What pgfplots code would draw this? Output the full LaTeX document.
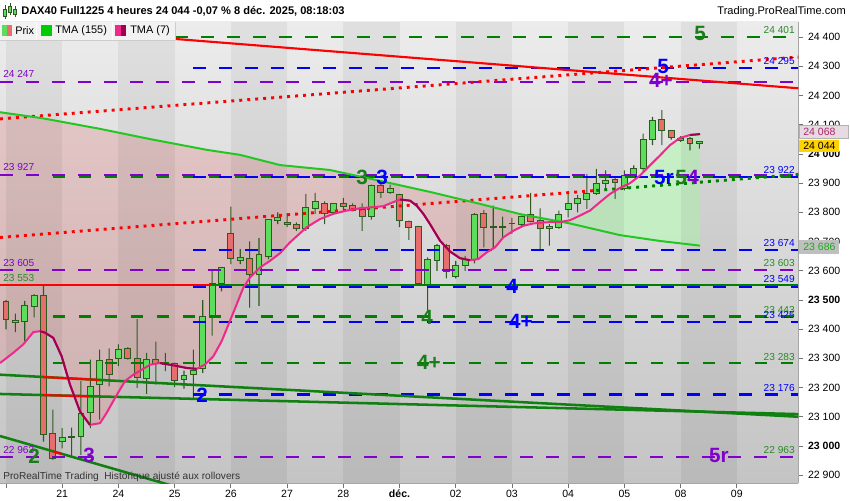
\documentclass[border=0pt]{standalone}
\usepackage{fontspec}
\setmainfont{Liberation Sans}
\usepackage{pgfplots}
\pgfplotsset{compat=1.18}
\usepackage{pgfplotstable}
\usepgfplotslibrary{fillbetween}

\definecolor{lvgreen}{RGB}{0,128,0}
\definecolor{lvblue}{RGB}{0,0,255}
\definecolor{lvpurple}{RGB}{128,0,204}
\definecolor{trgreen}{RGB}{16,128,16}
\definecolor{tmaslow}{RGB}{34,200,34}
\definecolor{tmapink}{RGB}{240,40,140}
\definecolor{tmamaroon}{RGB}{160,0,80}
\definecolor{candleup}{RGB}{92,222,92}
\definecolor{candledn}{RGB}{232,110,110}
\definecolor{candleline}{RGB}{45,90,30}
\definecolor{bgtop}{RGB}{236,236,236}
\definecolor{bgbot}{RGB}{196,196,196}
\definecolor{labgreen}{RGB}{40,140,40}
\definecolor{biggreen}{RGB}{25,125,25}
\definecolor{fillred}{RGB}{225,90,90}
\definecolor{fillgreen}{RGB}{190,245,190}
\definecolor{boxpink}{RGB}{232,218,226}
\definecolor{boxyellow}{RGB}{255,210,0}
\definecolor{boxgreen}{RGB}{30,170,30}

% 4h candles, k = candle index (6 per day), prices in points
\pgfplotstableread{
k o h l c
0 23493 23499 23399 23434
1 23424 23453 23390 23428
2 23426 23497 23359 23480
3 23477 23520 23440 23516
4 23516 23548 23015 23038
5 23042 23124 22952 22956
6 23015 23061 22992 23030
7 23030 23063 22964 23031
8 23032 23222 22969 23110
9 23113 23296 23061 23202
10 23210 23330 23090 23293
11 23296 23334 23204 23244
12 23300 23348 23273 23329
13 23334 23338 23296 23300
14 23300 23434 23199 23233
15 23231 23319 23178 23296
16 23296 23357 23210 23281
17 23280 23319 23256 23282
18 23281 23285 23201 23224
19 23226 23258 23196 23241
20 23244 23330 23164 23259
21 23265 23499 23250 23442
22 23443 23603 23378 23557
23 23557 23613 23529 23611
24 23729 23820 23623 23643
25 23636 23674 23623 23647
26 23643 23701 23474 23588
27 23588 23712 23480 23654
28 23650 23777 23640 23774
29 23773 23800 23760 23781
30 23765 23797 23749 23757
31 23760 23766 23737 23743
32 23743 23863 23737 23818
33 23814 23867 23795 23838
34 23832 23838 23760 23797
35 23800 23831 23797 23829
36 23832 23850 23812 23821
37 23822 23831 23804 23808
38 23809 23831 23737 23787
39 23787 23895 23775 23892
40 23892 23898 23850 23869
41 23869 23895 23863 23881
42 23861 23863 23749 23772
43 23768 23772 23706 23749
44 23751 23754 23548 23556
45 23554 23646 23464 23640
46 23636 23691 23600 23688
47 23688 23691 23574 23597
48 23580 23634 23574 23619
49 23619 23651 23600 23640
50 23640 23797 23625 23792
51 23795 23808 23680 23749
52 23749 23823 23674 23750
53 23749 23785 23714 23750
54 23762 23781 23726 23763
55 23760 23789 23754 23785
56 23791 23867 23766 23769
57 23772 23814 23668 23743
58 23746 23760 23686 23752
59 23749 23806 23743 23792
60 23809 23863 23783 23832
61 23832 23860 23800 23846
62 23844 23932 23812 23863
63 23863 23949 23860 23898
64 23898 23944 23881 23909
65 23912 23921 23846 23901
66 23881 23944 23875 23926
67 23923 23961 23918 23949
68 23949 24070 23938 24049
69 24049 24127 24030 24116
70 24118 24150 24030 24079
71 24079 24081 24049 24056
72 24053 24061 24041 24047
73 24053 24058 24012 24035
74 24037 24044 24018 24044
}\candles

% TMA (7)
\pgfplotstableread{
k v
-0.64 23284
0.78 23319
1.85 23348
2.92 23390
3.63 23393
4.16 23388
5.05 23370
5.94 23307
6.83 23210
7.90 23118
8.96 23072
10.03 23078
10.74 23113
11.63 23164
12.70 23222
13.59 23244
14.65 23264
15.37 23278
16.43 23284
17.86 23276
19.28 23267
20.35 23264
21.24 23279
22.13 23307
23.02 23359
23.90 23428
24.62 23485
25.33 23542
26.04 23577
27.10 23611
28.18 23634
29.24 23660
30.30 23697
32.09 23749
33.51 23777
34.93 23795
36.36 23806
37.78 23814
39.20 23818
40.27 23821
41.33 23835
42.05 23844
43.12 23840
43.83 23823
44.54 23795
45.25 23760
46.32 23703
47.39 23666
48.45 23643
49.52 23636
50.41 23640
51.30 23663
52.19 23680
53.07 23714
54.14 23737
55.21 23754
56.28 23762
57.70 23766
59.13 23767
60.19 23773
61.26 23789
62.33 23806
63.39 23835
64.46 23863
65.53 23884
66.60 23900
67.66 23926
68.73 23961
69.80 23995
70.86 24030
71.93 24055
73.00 24065
74.07 24068
}\tmafast

% TMA (155)
\pgfplotstableread{
k v
-0.64 24143
3.95 24122
10.03 24086
15.37 24051
21.45 24014
24.97 23997
29.24 23962
34.58 23945
39.91 23908
45.25 23870
50.59 23829
54.86 23794
60.19 23762
65.53 23722
69.80 23702
74.07 23686
}\tmaslow

\pgfplotsset{
  chartbase/.style={
    scale only axis, width=598.725pt, height=346.2pt,
    at={(0pt,-16.275pt)}, anchor=north west,
    xmin=-0.64, xmax=84.56, ymin=22872, ymax=24453,
  },
  lvl/.style={line width=1.75pt, dash pattern=on 9.5pt off 10pt},
  dots/.style={line width=2.2pt, dash pattern=on 2.2pt off 3.8pt},
}
\newcommand\fs[1]{\fontsize{#1}{#1}\selectfont}

\begin{document}
\begin{tikzpicture}

% layer 1: background, day bands, TMA fill, the two scales
\begin{axis}[chartbase,
  axis background/.style={top color=bgtop, bottom color=bgbot},
  axis x line*=bottom, axis y line*=right,
  axis line style={-, draw=gray!70, line width=0.75pt},
  tick align=outside, major tick length=3.75pt,
  tick style={draw=gray!90!black, line width=0.6pt},
  scaled y ticks=false,
  xtick={0,6,...,78},
  xticklabels={,21,24,25,26,27,28,\textbf{déc.},02,03,04,05,08,09},
  ytick={22900,23000,...,24400},
  yticklabels={22 900,\textbf{23 000},23 100,23 200,23 300,23 400,\textbf{23 500},23 600,23 700,23 800,23 900,\textbf{24 000},24 100,24 200,24 300,24 400},
  ticklabel style={font=\fs{7.9pt}, text=black},
  xticklabel style={yshift=2.2pt},
]
\fill[black, opacity=0.05] (axis cs:0,22872) rectangle (axis cs:6,24453);
\fill[black, opacity=0.05] (axis cs:12,22872) rectangle (axis cs:18,24453);
\fill[black, opacity=0.05] (axis cs:24,22872) rectangle (axis cs:30,24453);
\fill[black, opacity=0.05] (axis cs:36,22872) rectangle (axis cs:42,24453);
\fill[black, opacity=0.05] (axis cs:48,22872) rectangle (axis cs:54,24453);
\fill[black, opacity=0.05] (axis cs:60,22872) rectangle (axis cs:66,24453);
\fill[black, opacity=0.05] (axis cs:72,22872) rectangle (axis cs:78,24453);
\addplot[draw=none, name path=slow] table[x=k, y=v] {\tmaslow};
\addplot[draw=none, name path=fast] table[x=k, y=v] {\tmafast};
\addplot[fill=fillred, fill opacity=0.22]
  fill between[of=slow and fast, soft clip={domain=-1:59.2}];
\addplot[fill=fillgreen, fill opacity=0.75]
  fill between[of=slow and fast, soft clip={domain=59.2:75}];
\end{axis}

% layer 2: wicks, low to high
\begin{axis}[chartbase, hide axis, ybar stacked, bar width=0.8pt]
\addplot[draw=none, fill=none] table[x=k, y=l] {\candles};
\addplot[draw=none, fill=candleline] table[x=k, y expr={\thisrow{h}-\thisrow{l}}] {\candles};
\end{axis}

% layer 3: candle bodies
\begin{axis}[chartbase, hide axis, ybar stacked, bar width=0.63]
\addplot[draw=none, fill=none] table[x=k, y expr={min(\thisrow{o},\thisrow{c})}] {\candles};
\addplot[draw=candleline, fill=candleup, line width=0.75pt]
  table[x=k, y expr={max(\thisrow{c}-\thisrow{o},0)}] {\candles};
\addplot[draw=candleline, fill=candledn, line width=0.75pt]
  table[x=k, y expr={max(\thisrow{o}-\thisrow{c},0)}] {\candles};
\end{axis}

% layer 4: levels, trend lines, averages
\begin{axis}[chartbase, hide axis]
\addplot[lvl, lvgreen] coordinates {(18.04,24401) (84.56,24401)};
\addplot[lvl, lvblue] coordinates {(19.99,24295) (84.56,24295)};
\addplot[lvl, lvpurple] coordinates {(-0.64,24247) (84.56,24247)};
\addplot[lvl, lvgreen] coordinates {(4.98,23920) (84.56,23920)};
\addplot[lvl, lvblue] coordinates {(19.99,23920) (84.56,23920)};
\addplot[lvl, lvpurple] coordinates {(-0.64,23927) (84.56,23927)};
\addplot[lvl, lvblue] coordinates {(19.99,23672) (84.56,23672)};
\addplot[lvl, lvpurple] coordinates {(-0.64,23602) (84.56,23602)};
\addplot[lvl, lvblue] coordinates {(19.99,23545) (84.56,23545)};
\addplot[lvl, lvgreen] coordinates {(4.98,23443) (84.56,23443)};
\addplot[lvl, lvblue] coordinates {(19.99,23425) (84.56,23425)};
\addplot[lvl, lvgreen] coordinates {(4.98,23283) (84.56,23283)};
\addplot[lvl, lvblue] coordinates {(19.99,23176) (84.56,23176)};
\addplot[lvl, lvpurple] coordinates {(-0.64,22963) (84.56,22963)};
\addplot[red, line width=1.6pt] coordinates {(-0.64,23551) (21.98,23551)};
\addplot[lvgreen, line width=1.6pt] coordinates {(21.98,23551) (84.56,23551)};
% trend lines
\addplot[red, line width=1.6pt] coordinates {(18.04,24394) (84.56,24225)};
\addplot[trgreen, line width=1.9pt] coordinates {(-0.64,23244) (84.56,23100)};
\addplot[trgreen, line width=1.9pt] coordinates {(-0.64,23178) (84.56,23109)};
\addplot[trgreen, line width=1.9pt] coordinates {(-0.64,23034) (17.5,22866)};
\addplot[red, line width=1.6pt] coordinates {(3.95,23236) (10.03,23226)};
\addplot[red, line width=1.6pt] coordinates {(3.95,23174) (8.96,23170)};
\addplot[red, line width=1.6pt] coordinates {(5.02,22981) (5.98,22972)};
\addplot[dots, red] coordinates {(-0.64,24120) (84.56,24332)};
\addplot[dots, red] coordinates {(-0.64,23714) (63,23875)};
\addplot[dots, lvgreen] coordinates {(63,23875) (84.56,23930)};
% moving averages
\addplot[tmaslow, line width=1.5pt] table[x=k, y=v] {\tmaslow};
\addplot[tmapink, line width=1.5pt] table[x=k, y=v] {\tmafast};
\addplot[tmamaroon, line width=1.5pt, restrict x to domain=3.6:9.0] table[x=k, y=v] {\tmafast};
\addplot[tmamaroon, line width=1.5pt, restrict x to domain=16.4:20.4] table[x=k, y=v] {\tmafast};
\addplot[tmamaroon, line width=1.5pt, restrict x to domain=42.0:49.6] table[x=k, y=v] {\tmafast};
\addplot[tmamaroon, line width=1.5pt, restrict x to domain=72.9:74.1] table[x=k, y=v] {\tmafast};
\end{axis}

% overlays in pixel units
\begin{scope}[x=0.75pt, y=-0.75pt]
% title row
\draw[candleline, line width=0.5pt] (5,5)--(5,19) (10,3)--(10,15) (15,6)--(15,17);
\fill[candleup, draw=candleline, line width=0.4pt] (3.5,9) rectangle (6.5,16) (8.5,6) rectangle (11.5,12) (13.5,9) rectangle (16.5,14);
\node[anchor=west, inner sep=0] at (21,11) {\fs{8.3pt}\bfseries DAX40 Full1225 4 heures 24 044 -0,07 \% 8 déc. 2025, 08:18:03};
\node[anchor=east, inner sep=0] at (846,12) {\fs{8.3pt}Trading.ProRealTime.com};
% legend strip
\fill[gray!10] (0,21.7) rectangle (175,40);
\draw[white, line width=1pt] (36.5,21.7)--(36.5,40) (112.5,21.7)--(112.5,40);
\draw[gray!40, line width=0.5pt] (175,21.7)--(175,40) (0,40)--(175,40);
\fill[candleup] (2,25) rectangle (7,36);
\fill[candledn] (7,25) rectangle (12,36);
\node[anchor=west, inner sep=0] at (15,30.5) {\fs{8.2pt}Prix};
\fill[green!80!black] (41,25) rectangle (52,36);
\node[anchor=west, inner sep=0] at (55,30.5) {\fs{8.2pt}TMA (155)};
\fill[tmapink] (115,25) rectangle (121,36);
\fill[tmamaroon] (121,25) rectangle (126,36);
\node[anchor=west, inner sep=0] at (130,30.5) {\fs{8.2pt}TMA (7)};
% left level labels
\begin{scope}[every node/.style={anchor=west, inner sep=0, font=\fs{7.6pt}}]
\node[text=lvpurple] at (3,74) {24 247};
\node[text=lvpurple] at (3,167) {23 927};
\node[text=lvpurple] at (3,263) {23 605};
\node[text=labgreen] at (3,278) {23 553};
\node[text=lvpurple] at (3,450) {22 963};
\end{scope}
% right level labels
\begin{scope}[every node/.style={anchor=east, inner sep=0, font=\fs{7.6pt}}]
\node[text=labgreen] at (795,30) {24 401};
\node[text=lvblue] at (795,61) {24 295};
\node[text=lvblue] at (795,170) {23 922};
\node[text=lvblue] at (795,243) {23 674};
\node[text=labgreen] at (795,263) {23 603};
\node[text=lvblue] at (795,279) {23 549};
\node[text=labgreen] at (795,310) {23 443};
\node[text=lvblue] at (795,315) {23 425};
\node[text=labgreen] at (795,357) {23 283};
\node[text=lvblue] at (795,388) {23 176};
\node[text=labgreen] at (795,450) {22 963};
\end{scope}
% wave labels
\begin{scope}[every node/.style={inner sep=0, font=\fs{15.5pt}\bfseries}]
\node[text=biggreen] at (700,33) {5};
\node[text=lvblue] at (663,66) {5};
\node[text=lvpurple] at (661,80) {4+};
\node[text=biggreen] at (362,177) {3};
\node[text=lvblue] at (382,177) {3};
\node[text=lvblue] at (664,177) {5r};
\node[text=biggreen] at (681,177) {5};
\node[text=lvpurple] at (693,177) {4};
\node[text=lvblue] at (512,286) {4};
\node[text=biggreen] at (427,317) {4};
\node[text=lvblue] at (521,321) {4+};
\node[text=biggreen] at (429,362) {4+};
\node[text=lvblue] at (202,395) {2};
\node[text=biggreen] at (34,456) {2};
\node[text=lvpurple] at (89,455) {3};
\node[text=lvpurple] at (719,455) {5r};
\end{scope}
% footer note
\node[anchor=west, inner sep=0, text=black!80] at (3,477) {\fs{7.6pt}ProRealTime Trading\ \ Historique ajusté aux rollovers};
% price boxes on the scale
\draw[gray!60, fill=boxpink] (799,125) rectangle (848,138.5);
\node[anchor=west, inner sep=0, text=tmamaroon!85] at (803,131.8) {\fs{7.9pt}24 068};
\fill[boxyellow] (799,139.5) rectangle (838.5,151.5);
\node[anchor=west, inner sep=0] at (803,145.5) {\fs{7.9pt}24 044};
\fill[gray!50] (799,240) rectangle (838.5,254);
\node[anchor=west, inner sep=0, text=boxgreen] at (803,247) {\fs{7.9pt}23 686};
\end{scope}
\pgfresetboundingbox
\path[use as bounding box] (0pt,0pt) rectangle (637.5pt,-375pt);
\end{tikzpicture}
\end{document}
